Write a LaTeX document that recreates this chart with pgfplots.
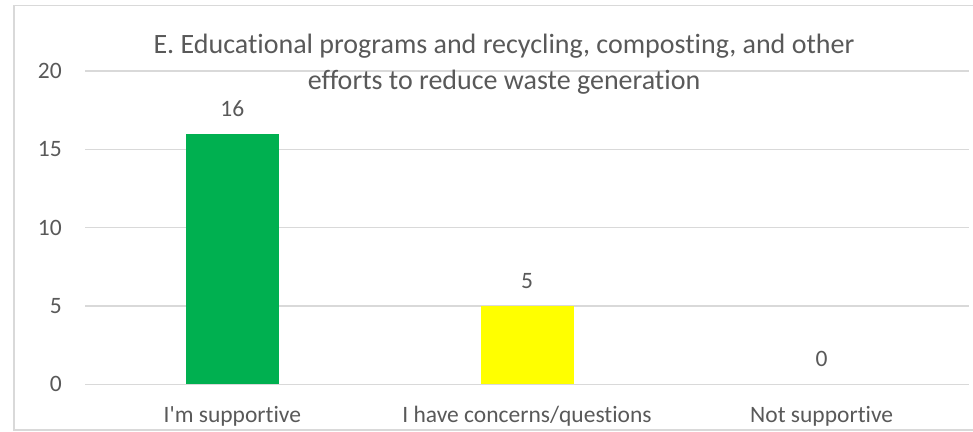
\documentclass[border=0pt]{standalone}
\usepackage{pgfplots}
\pgfplotsset{compat=1.18}
\usepackage{fontspec}
\setmainfont{Carlito}[Ligatures={NoCommon,TeXOff}]
\definecolor{txt}{HTML}{595959}
\definecolor{gridc}{HTML}{D9D9D9}
\definecolor{bgreen}{HTML}{00B050}
\definecolor{byellow}{HTML}{FFFF00}
\begin{document}
\begin{tikzpicture}[x=1pt,y=1pt]
\path[use as bounding box] (0,0) rectangle (973,431);
\draw[gridc, line width=1.2pt] (973,1) -- (14,1) -- (14,425.7) -- (973,425.7);
\begin{axis}[
  at={(85pt,46.7pt)}, anchor=south west,
  scale only axis, width=884pt, height=313.3pt,
  xmin=-0.5, xmax=2.5, ymin=0, ymax=20,
  xtick={0,1,2},
  xticklabels={I'm supportive, I have concerns/questions, Not supportive},
  ytick={0,5,10,15,20},
  axis line style={draw=none},
  major tick length=0pt,
  xmajorgrids=false,
  ymajorgrids=true,
  major grid style={draw=gridc, line width=1.3pt},
  /pgf/number format/assume math mode=true,
  tick label style={font=\fontsize{23.5}{28}\selectfont, text=txt, inner sep=0pt},
  xticklabel style={anchor=base, yshift=-38.5pt},
  yticklabel style={anchor=east, xshift=-23pt},
  nodes near coords,
  nodes near coords style={font=\fontsize{23.5}{28}\selectfont, text=txt, inner sep=0pt, anchor=base, yshift=17.5pt},
  clip=false,
]
\addplot[ybar, bar width=93pt, fill=bgreen, draw=none] coordinates {(0,16)};
\addplot[ybar, bar width=93pt, fill=byellow, draw=none] coordinates {(1,5)};
\addplot[ybar, bar width=93pt, fill=none, draw=none] coordinates {(2,0)};
\end{axis}
\node[anchor=base, text=txt, font=\fontsize{28}{34}\selectfont, inner sep=0pt] at (504,377.7) {E. Educational programs and recycling, composting, and other};
\node[anchor=base, text=txt, font=\fontsize{28}{34}\selectfont, inner sep=0pt] at (504,341.7) {efforts to reduce waste generation};
\end{tikzpicture}
\end{document}
